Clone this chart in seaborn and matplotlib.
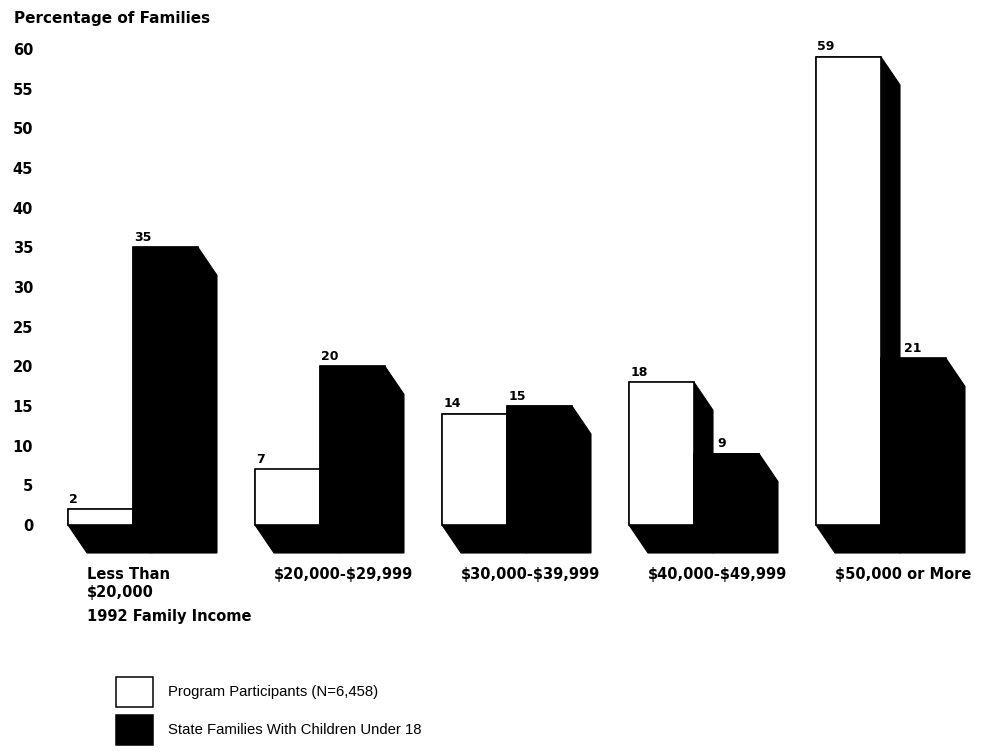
import matplotlib
matplotlib.use("Agg")
import matplotlib.pyplot as plt
from matplotlib.patches import Polygon, Patch
import seaborn as sns
import pandas as pd

# ---- data -------------------------------------------------------------
income_groups = ["Less Than\n$20,000", "$20,000-$29,999", "$30,000-$39,999",
                 "$40,000-$49,999", "$50,000 or More"]
series_names = ["Program Participants (N=6,458)",
                "State Families With Children Under 18"]
participants = [2, 7, 14, 18, 59]
state_families = [35, 20, 15, 9, 21]
y_ticks = list(range(0, 61, 5))
y_title = "Percentage of Families"
x_title = "1992 Family Income"

# ---- style ------------------------------------------------------------
sns.set_theme(style="white")
plt.rcParams["font.family"] = ["DejaVu Sans"]
plt.rcParams["text.parse_math"] = False
for key in ("text.color", "axes.labelcolor", "xtick.color", "ytick.color"):
    plt.rcParams[key] = "black"

df = pd.DataFrame({
    "income": income_groups * 2,
    "series": [series_names[0]] * len(income_groups) + [series_names[1]] * len(income_groups),
    "pct": participants + state_families,
})

# ---- figure / axes geometry (pixels) ------------------------------------
W, H = 987, 755
fig = plt.figure(figsize=(W / 100, H / 100), dpi=100)
ax_left_px, base_px, top_px = 40, 525, 49
ax = fig.add_axes([ax_left_px / W, (H - base_px) / H,
                   1 - ax_left_px / W, (base_px - top_px) / H])

bar_w = 0.695
sns.barplot(data=df, x="income", y="pct", hue="series", order=income_groups,
            hue_order=series_names, palette=["white", "black"], width=bar_w,
            gap=0, edgecolor="black", linewidth=1.2, errorbar=None,
            legend=False, ax=ax)

px_per_x = 187.0
px_per_y = (base_px - top_px) / 60.0
first_center_px = 133
ax.set_xlim((ax_left_px - first_center_px) / px_per_x, (W - first_center_px) / px_per_x)
ax.set_ylim(0, 60)

# depth of the extruded (3-D) look
dx = 19 / px_per_x
dy = 28 / px_per_y

for k, cont in enumerate(ax.containers):
    z = 2 + 2 * k
    for bar in cont:
        x0, w, h = bar.get_x(), bar.get_width(), bar.get_height()
        bar.set_zorder(z)
        bar.set_clip_on(False)
        verts = [(x0, 0), (x0, h), (x0 + w, h), (x0 + w + dx, h - dy),
                 (x0 + w + dx, -dy), (x0 + dx, -dy)]
        ax.add_patch(Polygon(verts, closed=True, facecolor="black",
                             edgecolor="black", lw=0.8, zorder=z - 0.5,
                             clip_on=False))

# value labels (moved past the neighbour's side face when it is taller)
values = [participants, state_families]
for k, cont in enumerate(ax.containers):
    for i, bar in enumerate(cont):
        x0, h = bar.get_x(), bar.get_height()
        shift = dx + 3 / px_per_x if (k == 1 and participants[i] > state_families[i]) else 0
        ax.annotate(f"{values[k][i]}", xy=(x0 + shift, h), xytext=(1, 2.5),
                    textcoords="offset points", ha="left", va="bottom",
                    fontsize=9, fontweight="bold", zorder=7,
                    annotation_clip=False)

# category labels under each group
centers = ax.get_xticks()
label_y = (base_px - 567) / px_per_y
for c, lab in zip(centers, income_groups):
    ax.text(c - bar_w / 2 + dx, label_y, lab, ha="left", va="top",
            fontsize=10.5, fontweight="bold", linespacing=1.25, clip_on=False)
ax.text(centers[0] - bar_w / 2 + dx, (base_px - 609) / px_per_y, x_title,
        ha="left", va="top", fontsize=10.5, fontweight="bold", clip_on=False)

ax.set_xticks([])
ax.set_xlabel("")
ax.set_ylabel("")
ax.set_yticks(y_ticks)
ax.set_yticklabels([str(v) for v in y_ticks], fontsize=10.5, fontweight="bold")
ax.tick_params(axis="y", length=0, pad=5)
sns.despine(ax=ax, left=True, bottom=True)
ax.patch.set_alpha(0)

fig.text(14 / W, 1 - 23 / H, y_title, ha="left", va="baseline",
         fontsize=11, fontweight="bold")

# legend (box height = fs*(0.65*handleheight + 0.245))
fs = 10.7
fs_px = fs * 100 / 72
box_h = 30
hh = (box_h / fs_px - 0.245) / 0.65
handles = [Patch(facecolor="white", edgecolor="black", lw=1.1, label=series_names[0]),
           Patch(facecolor="black", edgecolor="black", lw=1.1, label=series_names[1])]
fig.legend(handles=handles, loc="upper left",
           bbox_to_anchor=(116 / W, 1 - 677 / H), frameon=False,
           borderpad=0, borderaxespad=0,
           handlelength=37 / fs_px, handleheight=hh,
           handletextpad=15 / fs_px, labelspacing=(38 - box_h) / fs_px,
           prop={"family": "Liberation Sans", "size": fs})

fig.savefig("out.png", dpi=100)
